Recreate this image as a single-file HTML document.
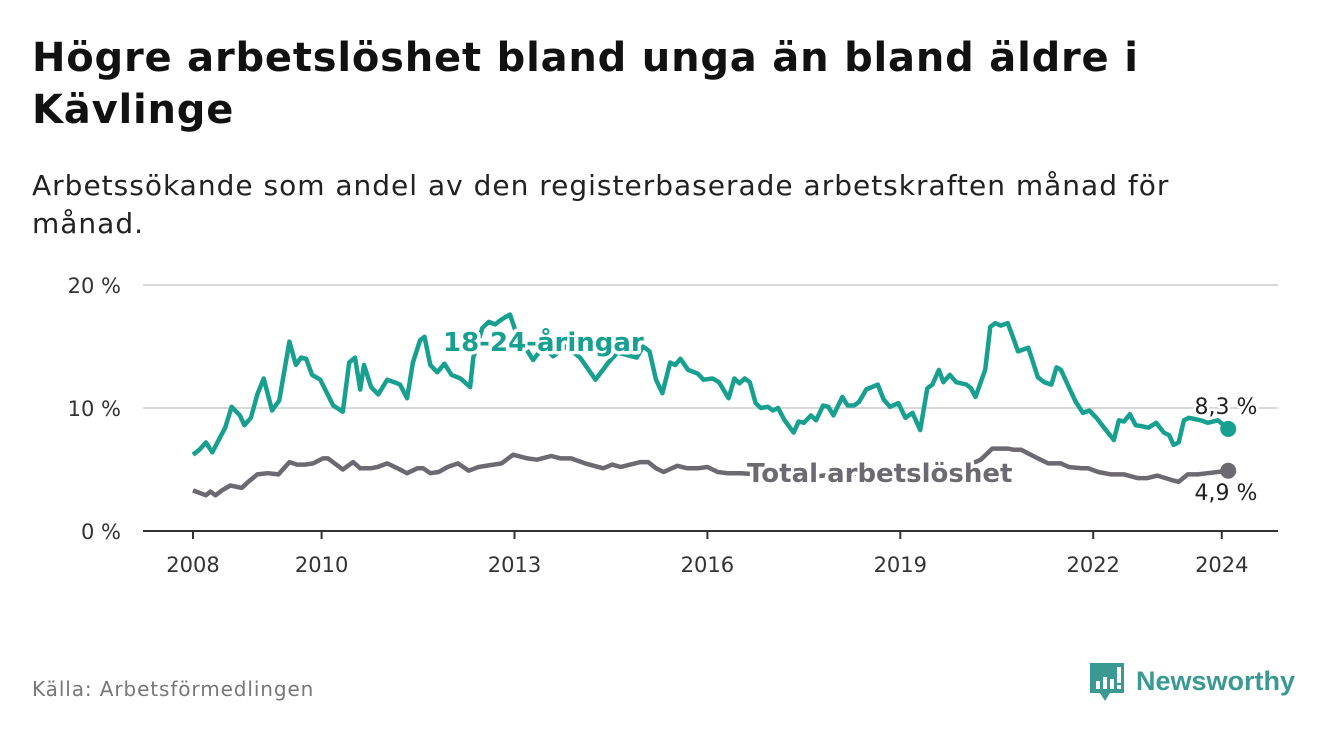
<!DOCTYPE html>
<html><head><meta charset="utf-8"><style>
body{margin:0;background:#fff;width:1340px;height:734px;overflow:hidden;font-family:"DejaVu Sans","Liberation Sans",sans-serif;}
#title{position:absolute;left:32px;top:32px;margin:0;font-size:40px;line-height:52px;font-weight:bold;color:#111;letter-spacing:0.8px;}
#sub{position:absolute;left:32px;top:167px;margin:0;font-size:28px;line-height:38px;color:#222;letter-spacing:1px;}
#src{position:absolute;left:32px;top:677px;font-size:20px;color:#777;letter-spacing:0.9px;}
#logo{position:absolute;left:1088px;top:660px;}
svg text{font-family:"DejaVu Sans","Liberation Sans",sans-serif;}
</style></head><body>
<h1 id="title">Högre arbetslöshet bland unga än bland äldre i<br>Kävlinge</h1>
<p id="sub">Arbetssökande som andel av den registerbaserade arbetskraften månad för<br>månad.</p>
<svg id="chart" width="1340" height="734" style="position:absolute;left:0;top:0"></svg>
<div id="src">Källa: Arbetsförmedlingen</div>
<svg id="logo" width="230" height="46">
<path d="M2 3h34v30h-14l-5 8-5-8h-10z" fill="#3a9a92"/>
<rect x="8" y="21" width="4" height="8" fill="#fff"/><rect x="15" y="17" width="4" height="12" fill="#fff"/><rect x="22" y="19" width="4" height="10" fill="#fff"/><rect x="29" y="7" width="4" height="16" fill="#fff"/><rect x="29" y="25" width="4" height="4" fill="#fff"/>
<text x="48" y="30" font-size="27" font-weight="bold" fill="#3a9a92" style="font-family:'Liberation Sans',sans-serif">Newsworthy</text>
</svg>
<script>
const youthYears=[2008.0,2008.1,2008.2,2008.3,2008.42,2008.5,2008.6,2008.73,2008.8,2008.9,
2009.0,2009.1,2009.23,2009.34,2009.5,2009.6,2009.68,2009.76,2009.85,2009.98,
2010.18,2010.33,2010.43,2010.52,2010.6,2010.66,2010.77,2010.88,2011.02,2011.13,
2011.22,2011.33,2011.42,2011.53,2011.6,2011.69,2011.8,2011.91,2012.02,2012.16,
2012.31,2012.36,2012.5,2012.6,2012.7,2012.8,2012.93,2013.0,2013.1,2013.29,
2013.45,2013.6,2013.8,2014.02,2014.26,2014.46,2014.6,2014.9,2015.0,2015.1,
2015.2,2015.3,2015.42,2015.5,2015.58,2015.7,2015.85,2015.94,2016.08,2016.18,
2016.33,2016.42,2016.5,2016.58,2016.66,2016.75,2016.83,2016.94,2017.02,2017.1,
2017.2,2017.34,2017.42,2017.5,2017.61,2017.69,2017.8,2017.88,2017.96,2018.1,
2018.18,2018.28,2018.36,2018.47,2018.65,2018.74,2018.84,2018.97,2019.08,2019.19,
2019.31,2019.42,2019.5,2019.6,2019.67,2019.77,2019.87,2020.03,2020.1,2020.17,
2020.25,2020.32,2020.4,2020.48,2020.56,2020.67,2020.75,2020.83,2020.99,2021.14,
2021.24,2021.35,2021.43,2021.5,2021.63,2021.73,2021.84,2021.94,2022.05,2022.17,
2022.32,2022.4,2022.48,2022.57,2022.66,2022.77,2022.86,2022.98,2023.1,2023.18,
2023.25,2023.33,2023.41,2023.49,2023.67,2023.78,2023.94,2024.1];
const youthValues=[6.2,6.6,7.2,6.4,7.6,8.4,10.1,9.4,8.6,9.2,
11.1,12.4,9.8,10.6,15.4,13.5,14.1,14.0,12.7,12.3,
10.2,9.7,13.7,14.1,11.5,13.5,11.7,11.1,12.3,12.1,
11.9,10.8,13.7,15.5,15.8,13.5,12.9,13.6,12.7,12.4,
11.7,14.1,16.5,17.0,16.8,17.2,17.6,16.5,15.5,13.9,
15.0,14.2,15.0,14.1,12.3,13.7,14.5,14.1,15.0,14.6,
12.3,11.2,13.7,13.5,14.0,13.1,12.8,12.3,12.4,12.1,
10.8,12.4,12.0,12.4,12.1,10.4,10.0,10.1,9.8,10.0,
9.0,8.0,8.9,8.8,9.4,9.0,10.2,10.1,9.4,10.9,
10.2,10.2,10.5,11.5,11.9,10.7,10.1,10.4,9.2,9.6,
8.2,11.6,11.9,13.1,12.1,12.7,12.1,11.9,11.6,10.9,
12.1,13.1,16.6,16.9,16.7,16.9,15.8,14.6,14.9,12.5,
12.1,11.9,13.3,13.1,11.6,10.5,9.6,9.8,9.2,8.4,
7.4,9.0,8.9,9.5,8.6,8.5,8.4,8.8,8.0,7.8,
7.0,7.2,9.0,9.2,9.0,8.8,9.0,8.3];
const totalYears=[2008.0,2008.2,2008.27,2008.35,2008.45,2008.58,2008.76,2008.86,2009.0,2009.16,2009.33,2009.5,2009.62,2009.74,2009.87,2010.02,2010.1,2010.33,2010.49,2010.6,2010.76,2010.87,2011.02,2011.18,2011.33,2011.49,2011.58,2011.69,2011.82,2011.96,2012.12,2012.29,2012.44,2012.8,2012.98,2013.2,2013.35,2013.57,2013.72,2013.88,2014.1,2014.38,2014.52,2014.65,2014.8,2014.96,2015.08,2015.2,2015.32,2015.53,2015.69,2015.85,2016.0,2016.16,2016.31,2016.52,2016.8,2017.2,2017.6,2018.0,2018.4,2018.8,2019.2,2019.6,2019.95,2020.25,2020.43,2020.67,2020.77,2020.88,2020.99,2021.14,2021.3,2021.5,2021.62,2021.82,2021.92,2022.08,2022.28,2022.48,2022.69,2022.84,2023.0,2023.25,2023.33,2023.47,2023.62,2023.78,2023.94,2024.1];
const totalValues=[3.3,2.9,3.2,2.9,3.3,3.7,3.5,4.0,4.6,4.7,4.6,5.6,5.4,5.4,5.5,5.9,5.9,5.0,5.6,5.1,5.1,5.2,5.5,5.1,4.7,5.1,5.1,4.7,4.8,5.2,5.5,4.9,5.2,5.5,6.2,5.9,5.8,6.1,5.9,5.9,5.5,5.1,5.4,5.2,5.4,5.6,5.6,5.1,4.8,5.3,5.1,5.1,5.2,4.8,4.7,4.7,4.6,4.5,4.4,4.6,4.7,4.8,4.7,4.8,5.1,5.8,6.7,6.7,6.6,6.6,6.3,5.9,5.5,5.5,5.2,5.1,5.1,4.8,4.6,4.6,4.3,4.3,4.5,4.1,4.0,4.6,4.6,4.7,4.8,4.9];
const yTicks=[0,10,20];
const yTickLabels=["0 %","10 %","20 %"];
const xTicks=[2008,2010,2013,2016,2019,2022,2024];

const NS="http://www.w3.org/2000/svg";
const svg=document.getElementById('chart');
const X0=143,X1=1278;
const xs=y=>193+(y-2008)*64.3;
const ys=v=>531-v*12.3;
function el(tag,attrs,parent){const e=document.createElementNS(NS,tag);for(const k in attrs)e.setAttribute(k,attrs[k]);(parent||svg).appendChild(e);return e;}
yTicks.forEach((t,i)=>{
  if(t>0){const g=el('line',{x1:X0,x2:X1,y1:ys(t),y2:ys(t),stroke:'#d9d9d9','stroke-width':2});
  
  }
  const tx=el('text',{x:121,y:ys(t)+8,'text-anchor':'end','font-size':21,fill:'#333'});
  
  
  tx.textContent=yTickLabels[i];
});
const ax=el('line',{x1:X0,x2:X1,y1:531,y2:531,stroke:'#333','stroke-width':2});


xTicks.forEach(t=>{
  const tk=el('line',{x1:xs(t),x2:xs(t),y1:531,y2:539,stroke:'#333','stroke-width':2});
  
  
  const tx=el('text',{x:xs(t),y:572,'text-anchor':'middle','font-size':21,fill:'#333'});
  
  
  tx.textContent=t;
});
function line(years,vals,color,name){
  const d=years.map((y,i)=>(i?'L':'M')+xs(y).toFixed(1)+' '+ys(vals[i]).toFixed(1)).join(' ');
  const p=el('path',{d:d,fill:'none',stroke:color,'stroke-width':4.5,'stroke-linejoin':'round'});
  
  
  const n=years.length-1;
  const c=el('circle',{cx:xs(years[n]),cy:ys(vals[n]),r:8,fill:color});
  
  
}
const TEAL='#17a090',GRAY='#6c6a70';
line(totalYears,totalValues,GRAY,'total-line');
line(youthYears,youthValues,TEAL,'youth-line');
function label(x,y,txt,color,name,bold){
  const t=el('text',{x:x,y:y,'font-size':bold?26:22,'font-weight':bold?'bold':'normal',fill:color,stroke:'#fff','stroke-width':bold?7:5,'paint-order':'stroke','stroke-linejoin':'round'});
  
  
  t.textContent=txt;
  return t;
}
label(443,351,'18-24-åringar',TEAL,'youth-series-label',true);
label(747,482,'Total arbetslöshet',GRAY,'total-series-label',true);
const l1=label(1226,414,'8,3 %','#222','youth-last-value',false);l1.setAttribute('text-anchor','middle');
const l2=label(1226,500,'4,9 %','#222','total-last-value',false);l2.setAttribute('text-anchor','middle');
</script>
</body></html>
